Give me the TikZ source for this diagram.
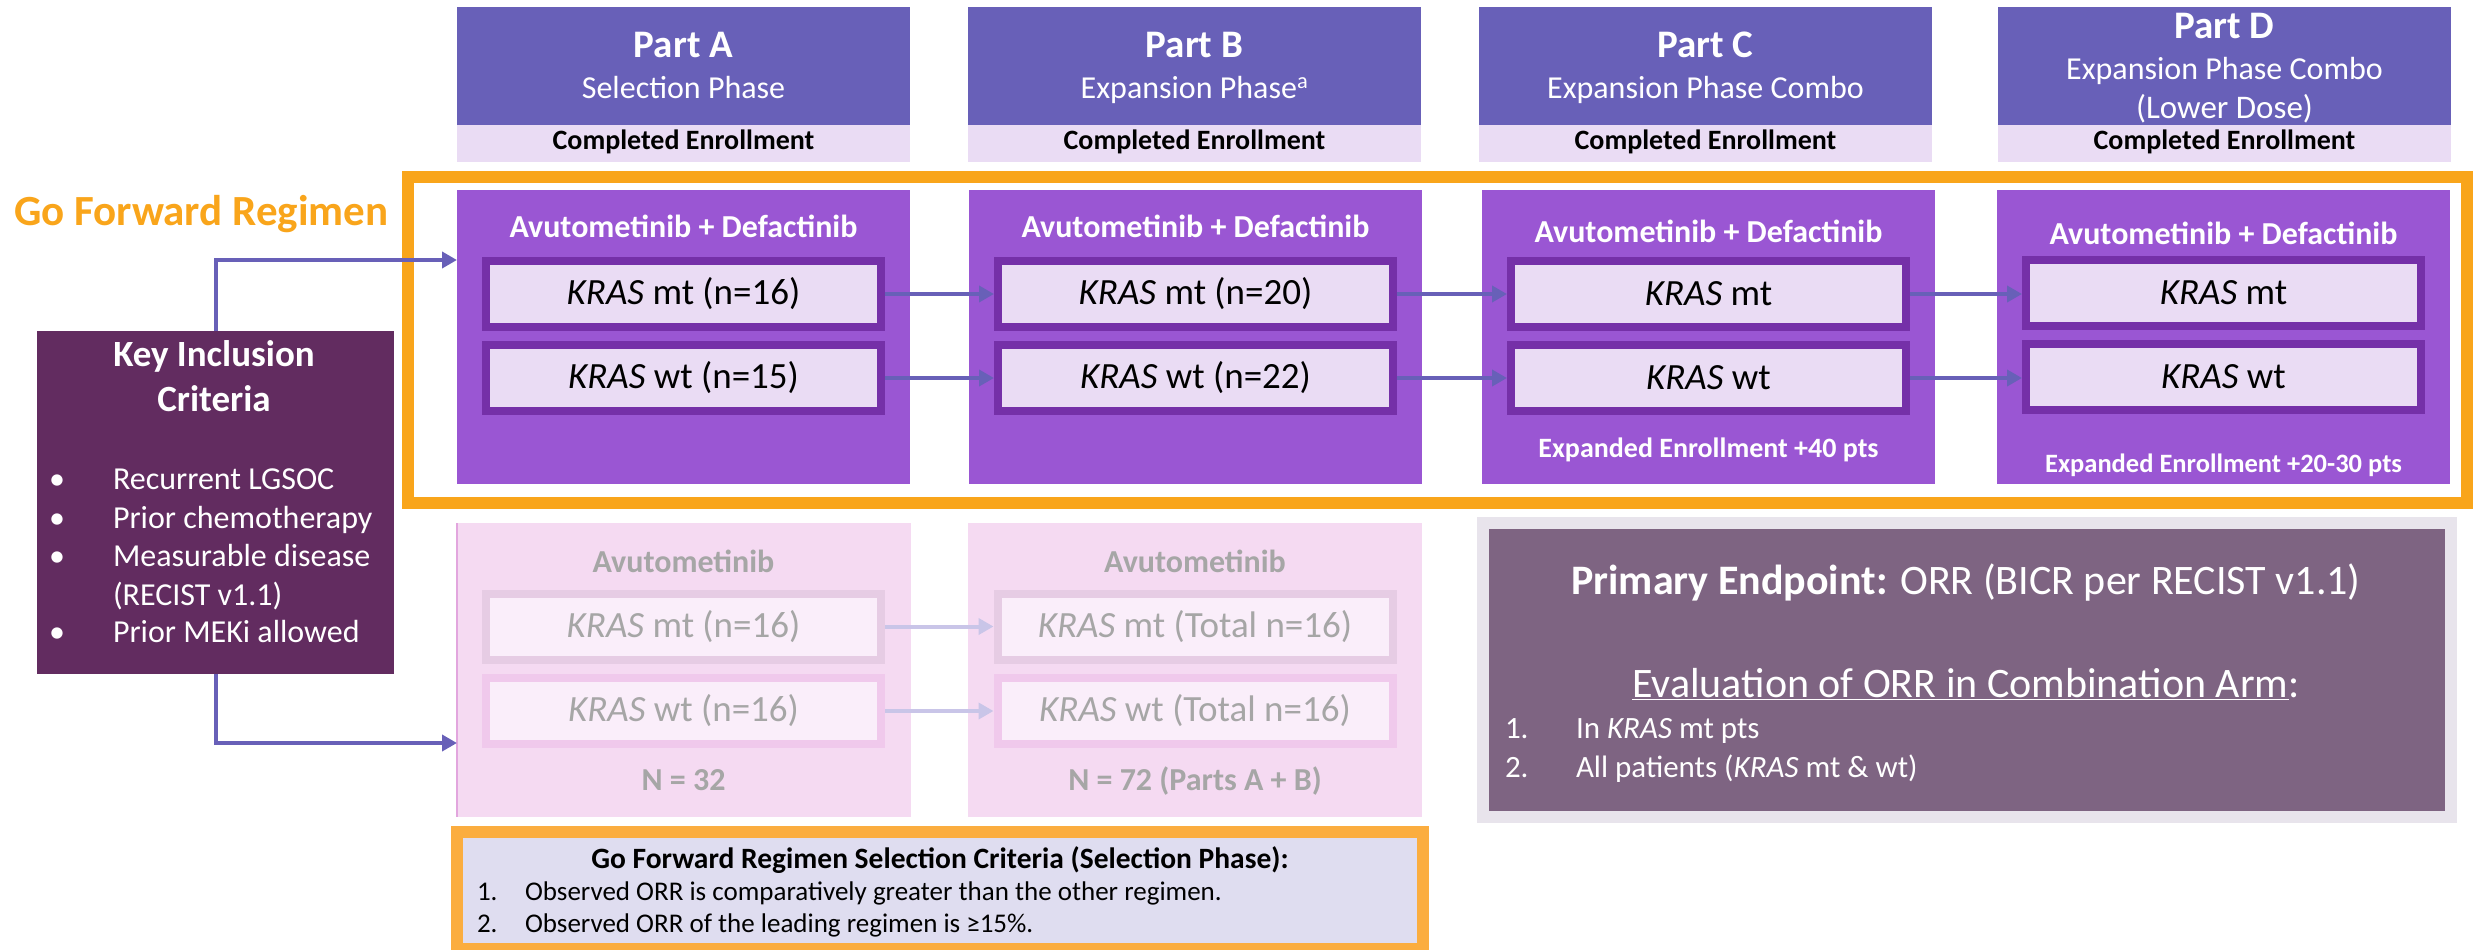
\documentclass[tikz,border=0pt]{standalone}
\usepackage{fontspec}
\setmainfont{Carlito}
\usetikzlibrary{arrows.meta,calc}

\definecolor{hdr}{HTML}{6860B8}
\definecolor{lav}{HTML}{EADCF4}
\definecolor{purp}{HTML}{9A56D3}
\definecolor{dkb}{HTML}{7530A8}
\definecolor{orng}{HTML}{F9A51B}
\definecolor{keyc}{HTML}{622C60}
\definecolor{pink}{HTML}{F5DAF2}
\definecolor{pkedge}{HTML}{E2A6DE}
\definecolor{pkba}{HTML}{E6CCE4}
\definecolor{pkbb}{HTML}{F0C9EC}
\definecolor{pkin}{HTML}{FAEEFA}
\definecolor{gry}{HTML}{A6A6A6}
\definecolor{farr}{HTML}{C9C5E8}
\definecolor{selo}{HTML}{FBAD3F}
\definecolor{sell}{HTML}{DFDDF0}
\definecolor{peo}{HTML}{E8E4EC}
\definecolor{pei}{HTML}{7E6482}

\newcommand\fz[2]{\fontsize{#1}{#2}\selectfont}

\begin{document}
\begin{tikzpicture}[x=1pt,y=-1pt,
  rbox/.style={rectangle, inner sep=0pt, outer sep=0pt, anchor=north west, draw=none},
  arm/.style={rectangle, inner sep=0pt, outer sep=4pt, line width=8pt,
    minimum width=395pt, minimum height=66pt, font=\fz{37}{44}},
  armon/.style={arm, draw=dkb, fill=lav},
  armoffa/.style={arm, draw=pkba, fill=pkin, text=gry},
  armoffb/.style={arm, draw=pkbb, fill=pkin, text=gry},
  lbl/.style={inner sep=0pt, outer sep=0pt, anchor=base},
  lblw/.style={inner sep=0pt, outer sep=0pt, anchor=base west},
  flow/.style={draw=hdr, line width=4pt, -{Triangle[length=15pt,width=16pt]}},
  fade/.style={draw=farr, line width=4pt, -{Triangle[length=15pt,width=16pt]}},
]
\useasboundingbox (0,0) rectangle (2475,950);

% phase headers
\foreach \c/\x in {A/457,B/968,C/1479,D/1998}{
  \node[rbox, fill=hdr, minimum width=453pt, minimum height=118pt] (h\c) at (\x,7) {};
  \node[rbox, fill=lav, minimum width=453pt, minimum height=37pt] (e\c) at (\x,125) {};
  \node[lbl, font=\fz{28}{33}\bfseries] (en\c) at (\x+226.5,149) {Completed Enrollment};
}
\node[lbl, text=white, font=\fz{39}{45}\bfseries] (tA) at (683.5,58) {Part A};
\node[lbl, text=white, font=\fz{32}{38}] (sA) at (683.5,98) {Selection Phase};
\node[lbl, text=white, font=\fz{39}{45}\bfseries] (tB) at (1194.5,58) {Part B};
\node[lbl, text=white, font=\fz{32}{38}] (sB) at (1194.5,98) {Expansion Phase\textsuperscript{a}};
\node[lbl, text=white, font=\fz{39}{45}\bfseries] (tC) at (1705.5,58) {Part C};
\node[lbl, text=white, font=\fz{32}{38}] (sC) at (1705.5,98) {Expansion Phase Combo};
\node[lbl, text=white, font=\fz{39}{45}\bfseries] (tD) at (2224.5,39) {Part D};
\node[lbl, text=white, font=\fz{32}{38}] (sD) at (2224.5,80) {Expansion Phase Combo};
\node[lbl, text=white, font=\fz{33}{39}] (sD2) at (2224.5,118) {(Lower Dose)};

% go forward frame
\draw[orng, line width=12pt] (408,177) rectangle (2467,503);
\node[lblw, text=orng, font=\fz{43}{50}\bfseries] (gfr) at (14,225) {Go Forward Regimen};

% combination arms
\foreach \c/\x in {A/457,B/969,C/1482,D/1997}{
  \node[rbox, fill=purp, minimum width=453pt, minimum height=294pt] (p\c) at (\x,190) {};
}
\node[lbl, text=white, font=\fz{32}{38}\bfseries] (cA) at (683.5,237) {Avutometinib + Defactinib};
\node[lbl, text=white, font=\fz{32}{38}\bfseries] (cB) at (1195.5,237) {Avutometinib + Defactinib};
\node[lbl, text=white, font=\fz{32}{38}\bfseries] (cC) at (1708.5,242) {Avutometinib + Defactinib};
\node[lbl, text=white, font=\fz{32}{38}\bfseries] (cD) at (2223.5,244) {Avutometinib + Defactinib};

\node[armon] (A1) at (683.5,294) {\textit{KRAS} mt (n=16)};
\node[armon] (A2) at (683.5,378) {\textit{KRAS} wt (n=15)};
\node[armon] (B1) at (1195.5,294) {\textit{KRAS} mt (n=20)};
\node[armon] (B2) at (1195.5,378) {\textit{KRAS} wt (n=22)};
\node[armon] (C1) at (1708.5,294) {\textit{KRAS} mt};
\node[armon] (C2) at (1708.5,378) {\textit{KRAS} wt};
\node[armon] (D1) at (2223.5,292.5) {\textit{KRAS} mt};
\node[armon] (D2) at (2223.5,376.5) {\textit{KRAS} wt};

\node[lbl, text=white, font=\fz{28}{33}\bfseries] (xC) at (1708.5,457) {Expanded Enrollment +40 pts};
\node[lbl, text=white, font=\fz{26.5}{31}\bfseries] (xD) at (2223.5,472) {Expanded Enrollment +20-30 pts};

\draw[flow] (A1) -- (B1);
\draw[flow] (A2) -- (B2);
\draw[flow] (B1) -- (C1);
\draw[flow] (B2) -- (C2);
\draw[flow] (C1.east) -- (C1.east -| D1.west);
\draw[flow] (C2.east) -- (C2.east -| D2.west);

% monotherapy arms
\foreach \c/\x in {A/457,B/968}{
  \node[rbox, fill=pink, minimum width=454pt, minimum height=294pt] (q\c) at (\x,523) {};
}
\draw[pkedge, line width=1.5pt] (qA.north west) -- (qA.south west);
\node[lbl, text=gry, font=\fz{32}{38}\bfseries] (mA) at (683.5,572) {Avutometinib};
\node[lbl, text=gry, font=\fz{32}{38}\bfseries] (mB) at (1195,572) {Avutometinib};
\node[armoffa] (L1) at (683.5,626.5) {\textit{KRAS} mt (n=16)};
\node[armoffb] (L2) at (683.5,711) {\textit{KRAS} wt (n=16)};
\node[armoffa] (M1) at (1195,626.5) {\textit{KRAS} mt (Total n=16)};
\node[armoffb] (M2) at (1195,711) {\textit{KRAS} wt (Total n=16)};
\node[lbl, text=gry, font=\fz{32}{38}\bfseries] (nA) at (683.5,790) {N = 32};
\node[lbl, text=gry, font=\fz{32}{38}\bfseries] (nB) at (1195,790) {N = 72 (Parts A + B)};
\draw[fade] (L1) -- (M1);
\draw[fade] (L2) -- (M2);

% key inclusion criteria
\node[rbox, fill=keyc, minimum width=357pt, minimum height=343pt] (key) at (37,331) {};
\node[lbl, text=white, font=\fz{37}{44}\bfseries] (k1) at (214,366) {Key Inclusion};
\node[lbl, text=white, font=\fz{37}{44}\bfseries] (k2) at (214,411) {Criteria};
\foreach \y/\t [count=\i] in {489/Recurrent LGSOC,528/Prior chemotherapy,566/Measurable disease,642/Prior MEKi allowed}{
  \node[lbl, text=white, font=\fz{32}{38}] (kb\i) at (57,\y) {•};
  \node[lblw, text=white, font=\fz{32}{38}] (kt\i) at (113,\y) {\t};
}
\node[lblw, text=white, font=\fz{32}{38}] (kt5) at (113,605) {(RECIST v1.1)};

\draw[flow] (key.north) |- ($(pA.north west)+(0,70)$);
\draw[flow] (key.south) |- ($(qA.north west)+(0,220)$);

% selection criteria
\node[rbox, fill=selo, minimum width=978pt, minimum height=124pt] (selO) at (451,826) {};
\node[rbox, fill=sell, minimum width=954pt, minimum height=105pt] (sel) at (463,838) {};
\node[lbl, font=\fz{29.5}{35}\bfseries] (sT) at (940,868) {Go Forward Regimen Selection Criteria (Selection Phase):};
\node[lblw, font=\fz{27}{32}] (s1n) at (477,900) {1.};
\node[lblw, font=\fz{27}{32}] (s1) at (525,900) {Observed ORR is comparatively greater than the other regimen.};
\node[lblw, font=\fz{27}{32}] (s2n) at (477,932) {2.};
\node[lblw, font=\fz{27}{32}] (s2) at (525,932) {Observed ORR of the leading regimen is ≥15\%.};

% primary endpoint
\node[rbox, fill=peo, minimum width=980pt, minimum height=306pt] (peO) at (1477,517) {};
\node[rbox, fill=pei, minimum width=956pt, minimum height=282pt] (pe) at (1489,529) {};
\node[lbl, text=white, font=\fz{42}{50}] (pT) at (1966,594) {\textbf{Primary Endpoint:} ORR (BICR per RECIST v1.1)};
\node[lbl, text=white, font=\fz{42}{50}] (pE) at (1966,697) {\underline{Evaluation of ORR in Combination Arm}:};
\node[lblw, text=white, font=\fz{31}{37}] (p1n) at (1505,738) {1.};
\node[lblw, text=white, font=\fz{31}{37}] (p1) at (1576,738) {In \textit{KRAS} mt pts};
\node[lblw, text=white, font=\fz{31}{37}] (p2n) at (1505,777) {2.};
\node[lblw, text=white, font=\fz{31}{37}] (p2) at (1576,777) {All patients (\textit{KRAS} mt \& wt)};
\end{tikzpicture}
\end{document}
